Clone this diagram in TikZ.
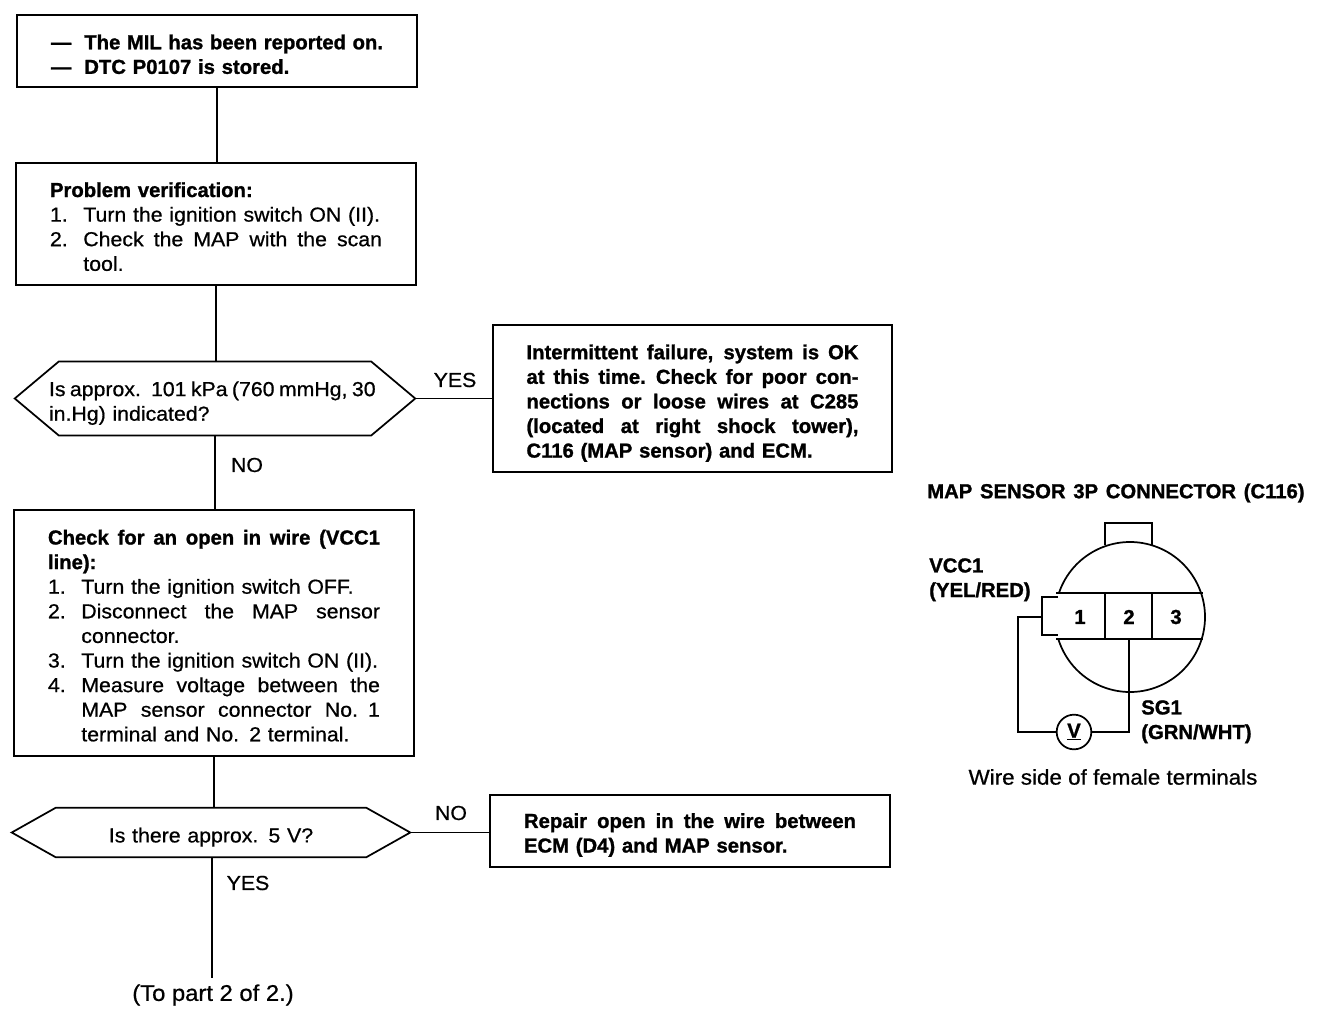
\documentclass[tikz,border=0pt]{standalone}
\usepackage{fontspec}
\setmainfont[FakeStretch=1.05,FakeBold=0.7,BoldFeatures={FakeStretch=1.0,FakeBold=1.2}]{Liberation Sans}
\newcommand{\jw}[2]{\leavevmode\hbox to #1{\spaceskip=.2em plus 1fil\relax #2}}
\newcommand{\jl}[1]{\jw{249pt}{#1}}
\newcommand{\jlshort}[1]{\jw{224pt}{#1}}
\newcommand{\num}[1]{\makebox[25pt][l]{#1}}
\newcommand{\dn}[1]{\leavevmode\rule{0pt}{#1}}
\tikzset{
  x=0.75pt,y=-0.75pt,
  every node/.style={font=\fontsize{15.2pt}{18.45pt}\selectfont},
  ink/.style={line width=1.3pt,black},
  box/.style={draw,ink,inner sep=0pt,text width=249pt,align=left,font=\fontsize{15.2pt}{18.45pt}\selectfont},
  hex/.style={inner sep=0pt,text width=249pt,align=left},
  lab/.style={inner sep=0pt,anchor=west},
  strong/.style={font=\fontsize{15.2pt}{18.45pt}\selectfont\bfseries},
}
\begin{document}
\begin{tikzpicture}
\useasboundingbox (0,0) rectangle (1328,1024);
\node[box,strong,minimum width=300pt,minimum height=54pt] (b1) at (217,51) {\dn{16pt}\jl{\num{---}The MIL has been reported on.}\\\num{---}DTC P0107 is stored.};
\node[box,minimum width=300pt,minimum height=91.5pt] (b2) at (216,224) {\dn{15pt}\textbf{Problem verification:}\\\num{1.}Turn the ignition switch ON (II).\\\jl{\num{2.}Check the MAP with the scan}\\\hspace*{25pt}tool.};
\node[hex,minimum width=300pt,minimum height=55pt] (d1) at (215,398.5) {\dn{18pt}\jw{245pt}{Is approx. 101 kPa (760 mmHg, 30}\\in.Hg) indicated?};
\draw[ink] (d1.west)--([xshift=33]d1.north west)--([xshift=-33]d1.north east)--(d1.east)--([xshift=-33]d1.south east)--([xshift=33]d1.south west)--cycle;
\node[box,strong,minimum width=299pt,minimum height=110pt] (b3) at (692.5,398.5) {\dn{18pt}\jl{Intermittent failure, system is OK}\\\jl{at this time. Check for poor con-}\\\jl{nections or loose wires at C285}\\\jl{(located at right shock tower),}\\C116 (MAP sensor) and ECM.};
\node[box,minimum width=300pt,minimum height=184.5pt] (b4) at (214,633) {\dn{15pt}\jl{\textbf{Check for an open in wire (VCC1}}\\\textbf{line):}\\\num{1.}Turn the ignition switch OFF.\\\jl{\num{2.}Disconnect the MAP sensor}\\\hspace*{25pt}connector.\\\num{3.}Turn the ignition switch ON (II).\\\jl{\num{4.}Measure voltage between the}\\\hspace*{25pt}\jlshort{MAP sensor connector No. 1}\\\hspace*{25pt}terminal and No. 2 terminal.};
\node[hex,minimum width=298.5pt,minimum height=36.75pt,align=center] (d2) at (211,832.5) {\dn{18pt}Is there approx. 5 V?};
\draw[ink] (d2.west)--([xshift=33]d2.north west)--([xshift=-33]d2.north east)--(d2.east)--([xshift=-33]d2.south east)--([xshift=33]d2.south west)--cycle;
\node[box,strong,minimum width=300pt,minimum height=54pt] (b5) at (690,831) {\dn{17pt}\jl{Repair open in the wire between}\\ECM (D4) and MAP sensor.};
\node[inner sep=0pt,font=\fontsize{17pt}{18pt}\selectfont] (end) at (213,995) {(To part 2 of 2.)};
\coordinate (endtop) at (212,978);
\draw[ink] (b1.south)--(b1.south |- b2.north);
\draw[ink] (b2.south)--(b2.south |- d1.north);
\draw[ink] (d1.south)--(d1.south |- b4.north);
\draw[ink] (b4.south)--(b4.south |- d2.north);
\draw[ink] (endtop |- d2.south)--(endtop);
\draw[ink] (d1.east)--(d1.east -| b3.west);
\draw[ink] (d2.east)--(d2.east -| b5.west);
\node[inner sep=0pt] (yes1) at (455,380) {YES};
\node[inner sep=0pt] (no1) at (247,465) {NO};
\node[inner sep=0pt] (no2) at (451,813) {NO};
\node[inner sep=0pt] (yes2) at (248,883) {YES};
% connector view
\node[lab,strong] (title) at (927,493) {\hbox to 283pt{\spaceskip=.2em plus 1fil\relax MAP SENSOR 3P CONNECTOR (C116)}};
\node[lab,strong,align=left,anchor=north west] (vcc) at (929,558) {VCC1\\(YEL/RED)};
\node[lab,strong,align=left,anchor=north west] (sg) at (1141,700) {SG1\\(GRN/WHT)};
\node[inner sep=0pt,font=\fontsize{16pt}{18pt}\selectfont] (wire) at (1113,777) {Wire side of female terminals};
\coordinate (cc) at (1130,617);
\draw[ink] (cc) ++(198.4:75) arc[start angle=198.4,end angle=523,radius=75];
\draw[ink] (1105,545)--(1105,523)--(1152,523)--(1152,545);
\draw[ink] (1058,597)--(1042,597)--(1042,635)--(1058,635);
\draw[ink] (1056,593)--(1203,593);
\draw[ink] (1056,639)--(1203,639);
\draw[ink] (1105,593)--(1105,639);
\draw[ink] (1152,593)--(1152,639);
\node[strong,inner sep=0pt] (p1) at (1080,617) {1};
\node[strong,inner sep=0pt] (p2) at (1129,617) {2};
\node[strong,inner sep=0pt] (p3) at (1176,617) {3};
\node[draw,ink,circle,minimum size=26pt,inner sep=0pt,font=\fontsize{15.2pt}{18.45pt}\selectfont\bfseries] (vm) at (1074,732) {\underline{V}};
\coordinate (tabw) at (1042,617);
\coordinate (pin2) at (1129,639);
\draw[ink] (tabw)--(1018,617)--(1018,732)--(vm.west);
\draw[ink] (pin2)--(1129,732)--(vm.east);
\end{tikzpicture}
\end{document}
